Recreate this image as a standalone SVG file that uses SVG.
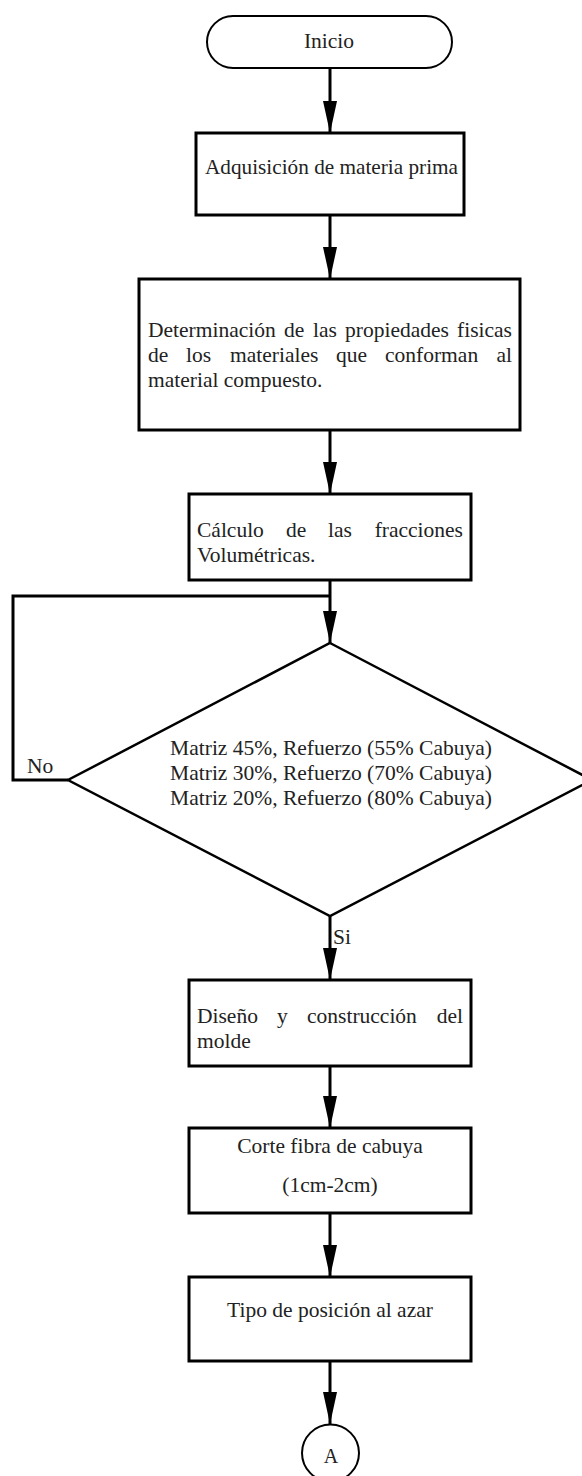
<svg xmlns="http://www.w3.org/2000/svg" width="582" height="1476" viewBox="0 0 582 1476">
<style>
text{font-family:"Liberation Serif","Times New Roman",serif;font-size:21.5px;fill:#222}
.c{text-anchor:middle}
.e{text-anchor:end}
.box{fill:#fff;stroke:#000;stroke-width:3}
.thin{fill:#fff;stroke:#000;stroke-width:2}
.dia{fill:#fff;stroke:#000;stroke-width:2.5}
.ln{fill:none;stroke:#000;stroke-width:3}
</style>
<defs>
<marker id="ah" markerUnits="userSpaceOnUse" viewBox="0 0 32 14" refX="32" refY="7" markerWidth="32" markerHeight="14" orient="auto">
<path d="M0,0 L32,7 L0,14 z" fill="#000"/>
</marker>
</defs>
<rect width="582" height="1476" fill="#fff"/>
<g id="connectors">
<line class="ln" x1="330" y1="68" x2="330" y2="133" marker-end="url(#ah)"/>
<line class="ln" x1="330" y1="215" x2="330" y2="279" marker-end="url(#ah)"/>
<line class="ln" x1="330" y1="430" x2="330" y2="494" marker-end="url(#ah)"/>
<line class="ln" x1="330" y1="580" x2="330" y2="643" marker-end="url(#ah)"/>
<polyline class="ln" points="68,780 13,780 13,596 330,596"/>
<line class="ln" x1="330" y1="916" x2="330" y2="980" marker-end="url(#ah)"/>
<line class="ln" x1="330" y1="1066" x2="330" y2="1128" marker-end="url(#ah)"/>
<line class="ln" x1="330" y1="1213" x2="330" y2="1277" marker-end="url(#ah)"/>
<line class="ln" x1="330" y1="1361" x2="330" y2="1424" marker-end="url(#ah)"/>
<text x="27" y="773">No</text>
<text x="333" y="944">Si</text>
</g>
<g id="inicio">
<rect class="thin" x="207" y="16" width="245" height="52" rx="26"/>
<text class="c" x="329" y="48">Inicio</text>
</g>
<g id="adquisicion">
<rect class="box" x="196" y="133" width="268" height="82"/>
<text x="205" y="174" textLength="253" lengthAdjust="spacingAndGlyphs">Adquisición de materia prima</text>
</g>
<g id="determinacion">
<rect class="box" x="139" y="279" width="381" height="151"/>
<text y="337"><tspan x="148">Determinación</tspan><tspan x="284">de</tspan><tspan x="313">las</tspan><tspan x="345">propiedades</tspan></text>
<text class="e" x="512" y="337">fisicas</text>
<text y="362"><tspan x="148">de</tspan><tspan x="186">los</tspan><tspan x="230">materiales</tspan><tspan x="336">que</tspan><tspan x="385">conforman</tspan></text>
<text class="e" x="512" y="362">al</text>
<text x="148" y="387">material compuesto.</text>
</g>
<g id="calculo">
<rect class="box" x="189" y="494" width="282" height="86"/>
<text y="537"><tspan x="197">Cálculo</tspan><tspan x="286">de</tspan><tspan x="328">las</tspan></text>
<text class="e" x="463" y="537">fracciones</text>
<text x="197" y="562">Volumétricas.</text>
</g>
<g id="decision">
<polygon class="dia" points="330,643 592,780 330,916 68,780"/>
<text class="c" x="331" y="755">Matriz 45%, Refuerzo (55% Cabuya)</text>
<text class="c" x="331" y="780">Matriz 30%, Refuerzo (70% Cabuya)</text>
<text class="c" x="331" y="805">Matriz 20%, Refuerzo (80% Cabuya)</text>
</g>
<g id="diseno">
<rect class="box" x="189" y="980" width="282" height="86"/>
<text y="1023"><tspan x="197">Diseño</tspan><tspan x="277">y</tspan><tspan x="307">construcción</tspan></text>
<text class="e" x="463" y="1023">del</text>
<text x="197" y="1048">molde</text>
</g>
<g id="corte">
<rect class="box" x="189" y="1128" width="282" height="85"/>
<text class="c" x="330" y="1153">Corte fibra de cabuya</text>
<text class="c" x="330" y="1192">(1cm-2cm)</text>
</g>
<g id="tipo">
<rect class="box" x="189" y="1277" width="282" height="84"/>
<text class="c" x="330" y="1317">Tipo de posición al azar</text>
</g>
<g id="conectorA">
<circle class="thin" cx="330.5" cy="1453" r="28.5"/>
<text class="c" x="331" y="1463" style="font-size:20px">A</text>
</g>
</svg>
